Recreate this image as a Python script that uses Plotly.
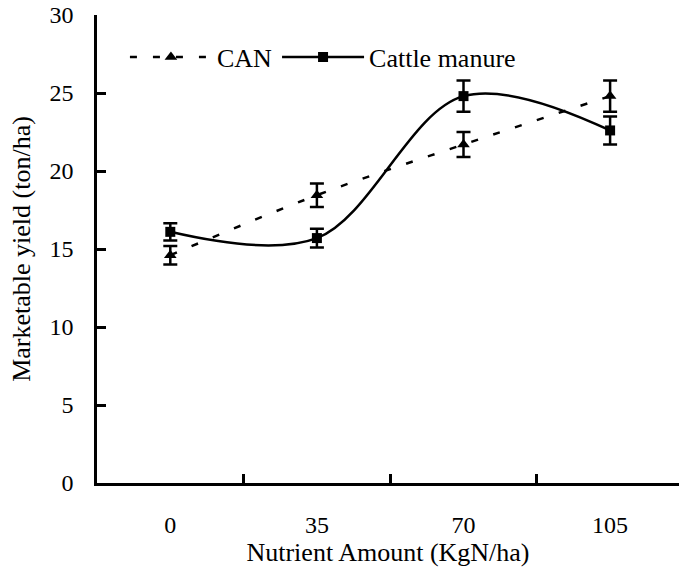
import plotly.graph_objects as go

categories = ["0", "35", "70", "105"]
can_yield = [14.6, 18.45, 21.7, 24.8]
can_err = [0.6, 0.75, 0.8, 1.0]
manure_yield = [16.1, 15.7, 24.8, 22.6]
manure_err = [0.55, 0.6, 1.0, 0.9]

FONT = "Liberation Serif, Times New Roman, serif"

fig = go.Figure()
fig.add_trace(go.Scatter(
    x=categories, y=can_yield, name="CAN", mode="lines+markers",
    line=dict(color="black", width=2.5, dash="7px,16px", shape="spline", smoothing=1),
    marker=dict(symbol="triangle-up", size=11, color="black"),
    error_y=dict(type="data", array=can_err, visible=True, color="black", thickness=2.5, width=7),
))
fig.add_trace(go.Scatter(
    x=categories, y=manure_yield, name="Cattle manure", mode="lines+markers",
    line=dict(color="black", width=2.5, shape="spline", smoothing=1),
    marker=dict(symbol="square", size=10, color="black"),
    error_y=dict(type="data", array=manure_err, visible=True, color="black", thickness=2.5, width=7),
))

fig.update_layout(
    width=679, height=567,
    margin=dict(l=97, r=0, t=15, b=84),
    paper_bgcolor="white", plot_bgcolor="white",
    font=dict(family=FONT, size=24, color="black"),
    showlegend=True,
    legend=dict(orientation="h", x=0.048, y=0.91, xanchor="left", yanchor="middle",
                bgcolor="rgba(0,0,0,0)", itemwidth=82, font=dict(size=26),
                tracegroupgap=0, itemclick=False),
    xaxis=dict(
        type="category", range=[-0.5, 3.47], showline=True, linecolor="black", linewidth=2.5,
        ticks="inside", ticklen=9, tickwidth=2.5, tickcolor="black", tickson="boundaries",
        showgrid=False, zeroline=False, ticklabelstandoff=18,
        title=dict(text="Nutrient Amount (KgN/ha)", font=dict(size=26), standoff=3),
    ),
    yaxis=dict(
        range=[0, 30], tickvals=[0, 5, 10, 15, 20, 25, 30], showline=True, linecolor="black",
        linewidth=2.5, ticks="inside", ticklen=9, tickwidth=2.5, tickcolor="black",
        showgrid=False, zeroline=False, ticklabelstandoff=16,
        title=dict(text="Marketable yield (ton/ha)", font=dict(size=26), standoff=12),
    ),
)

fig.write_html("out.html")
